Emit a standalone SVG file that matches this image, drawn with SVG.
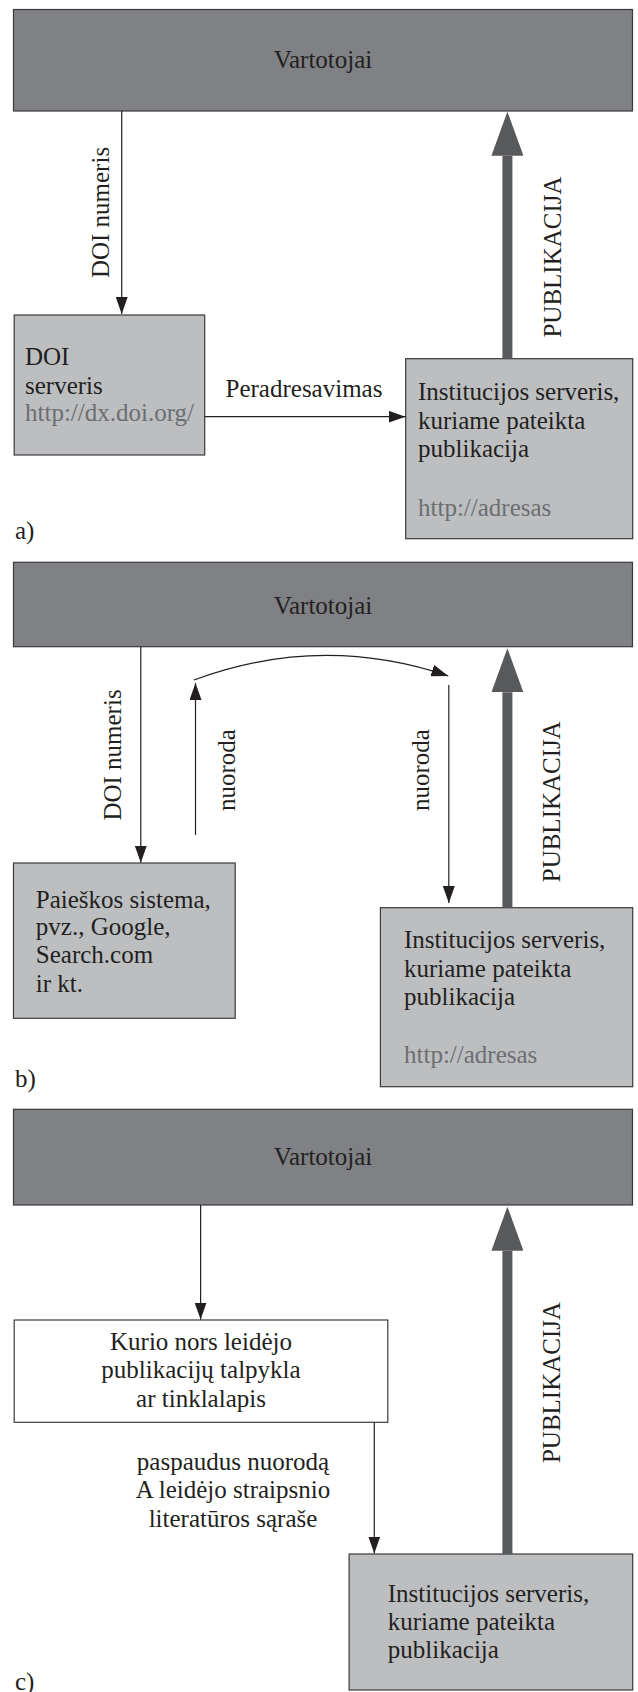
<svg xmlns="http://www.w3.org/2000/svg" width="638" height="1692" viewBox="0 0 638 1692">
<defs>
<style>
.dark{fill:#808184;stroke:#3a3a3c;stroke-width:1.2}
.light{fill:#bcbec0;stroke:#3a3a3c;stroke-width:1.2}
.white{fill:#ffffff;stroke:#3a3a3c;stroke-width:1.2}
text{font-family:"Liberation Serif","Times New Roman",serif;font-size:25px;fill:#231f20}
.url{fill:#6d6e71}
.mid{text-anchor:middle}
.thin{stroke:#231f20;stroke-width:1.2;fill:none}
.thick{stroke:#58595b;stroke-width:10;fill:none}
</style>
<marker id="ah" markerUnits="userSpaceOnUse" markerWidth="18" markerHeight="12" refX="17" refY="6" orient="auto">
<path d="M0,0 L17,6 L0,12 z" fill="#231f20"/>
</marker>
<marker id="big" markerUnits="userSpaceOnUse" markerWidth="44" markerHeight="32" refX="0" refY="16" orient="auto">
<path d="M0,0 L44,16 L0,32 z" fill="#58595b"/>
</marker>
</defs>

<!-- Panel a -->
<g id="a-users"><rect class="dark" x="13.5" y="9.5" width="619" height="101.5"/><text class="mid" x="323" y="68">Vartotojai</text></g>
<g id="a-doi"><rect class="light" x="14.2" y="315" width="190.5" height="140"/>
<text x="25" y="365">DOI</text><text x="25" y="394">serveris</text><text class="url" x="25" y="421">http://dx.doi.org/</text></g>
<g id="a-inst"><rect class="light" x="405.7" y="358.7" width="227" height="180"/>
<text x="418" y="400">Institucijos serveris,</text><text x="418" y="428.5">kuriame pateikta</text><text x="418" y="457">publikacija</text><text class="url" x="418" y="515.5">http://adresas</text></g>
<g id="a-label"><text x="15" y="539">a)</text></g>

<!-- Panel b -->
<g id="b-users"><rect class="dark" x="13.5" y="562.3" width="619" height="84.4"/><text class="mid" x="323" y="614">Vartotojai</text></g>
<g id="b-search"><rect class="light" x="13.5" y="863" width="221.7" height="155.3"/>
<text x="35.8" y="908">Paieškos sistema,</text><text x="35.8" y="935">pvz., Google,</text><text x="35.8" y="963">Search.com</text><text x="35.8" y="991.5">ir kt.</text></g>
<g id="b-inst"><rect class="light" x="380.4" y="907.7" width="252.3" height="179"/>
<text x="404" y="947.7">Institucijos serveris,</text><text x="404" y="976.5">kuriame pateikta</text><text x="404" y="1005">publikacija</text><text class="url" x="404" y="1063">http://adresas</text></g>
<g id="b-label"><text x="15" y="1086.5">b)</text></g>

<!-- Panel c -->
<g id="c-users"><rect class="dark" x="13.5" y="1109.3" width="619" height="95.7"/><text class="mid" x="323" y="1165">Vartotojai</text></g>
<g id="c-publisher"><rect class="white" x="14.2" y="1320" width="373.6" height="102.3"/>
<text class="mid" x="201" y="1350">Kurio nors leidėjo</text><text class="mid" x="201" y="1378.3">publikacijų talpykla</text><text class="mid" x="201" y="1406.7">ar tinklalapis</text></g>
<g id="c-inst"><rect class="light" x="349.1" y="1554" width="283.6" height="136"/>
<text x="387.8" y="1601.7">Institucijos serveris,</text><text x="387.8" y="1630">kuriame pateikta</text><text x="387.8" y="1658.3">publikacija</text></g>
<g id="c-label"><text x="15" y="1690">c)</text></g>

<!-- Connectors -->
<g id="connectors">
<line class="thin" x1="121.7" y1="111" x2="121.7" y2="314" marker-end="url(#ah)"/>
<text class="mid" transform="translate(109,212.5) rotate(-90)">DOI numeris</text>
<line class="thin" x1="204.7" y1="416.7" x2="405.5" y2="416.7" marker-end="url(#ah)"/>
<text class="mid" x="304" y="397">Peradresavimas</text>
<line class="thick" x1="507.4" y1="358.7" x2="507.4" y2="155.7" marker-end="url(#big)"/>
<text class="mid" transform="translate(561,257) rotate(-90)">PUBLIKACIJA</text>

<line class="thin" x1="140.8" y1="646.7" x2="140.8" y2="862.7" marker-end="url(#ah)"/>
<text class="mid" transform="translate(121.3,755) rotate(-90)">DOI numeris</text>
<line class="thin" x1="195.5" y1="835" x2="195.5" y2="683" marker-end="url(#ah)"/>
<text class="mid" transform="translate(235,770) rotate(-90)">nuoroda</text>
<path class="thin" d="M194,680 Q321,633 448.3,676" marker-end="url(#ah)"/>
<line class="thin" x1="448.8" y1="685" x2="448.8" y2="903" marker-end="url(#ah)"/>
<text class="mid" transform="translate(428.5,770) rotate(-90)">nuoroda</text>
<line class="thick" x1="507.4" y1="907.7" x2="507.4" y2="692.3" marker-end="url(#big)"/>
<text class="mid" transform="translate(560,801.7) rotate(-90)">PUBLIKACIJA</text>

<line class="thin" x1="200.6" y1="1205" x2="200.6" y2="1319.5" marker-end="url(#ah)"/>
<line class="thin" x1="374.3" y1="1422.3" x2="374.3" y2="1553.5" marker-end="url(#ah)"/>
<text class="mid" x="233" y="1469.5">paspaudus nuorodą</text>
<text class="mid" x="233" y="1498">A leidėjo straipsnio</text>
<text class="mid" x="233" y="1527">literatūros sąraše</text>
<line class="thick" x1="507.4" y1="1554" x2="507.4" y2="1250.7" marker-end="url(#big)"/>
<text class="mid" transform="translate(560,1382.5) rotate(-90)">PUBLIKACIJA</text>
</g>
</svg>
